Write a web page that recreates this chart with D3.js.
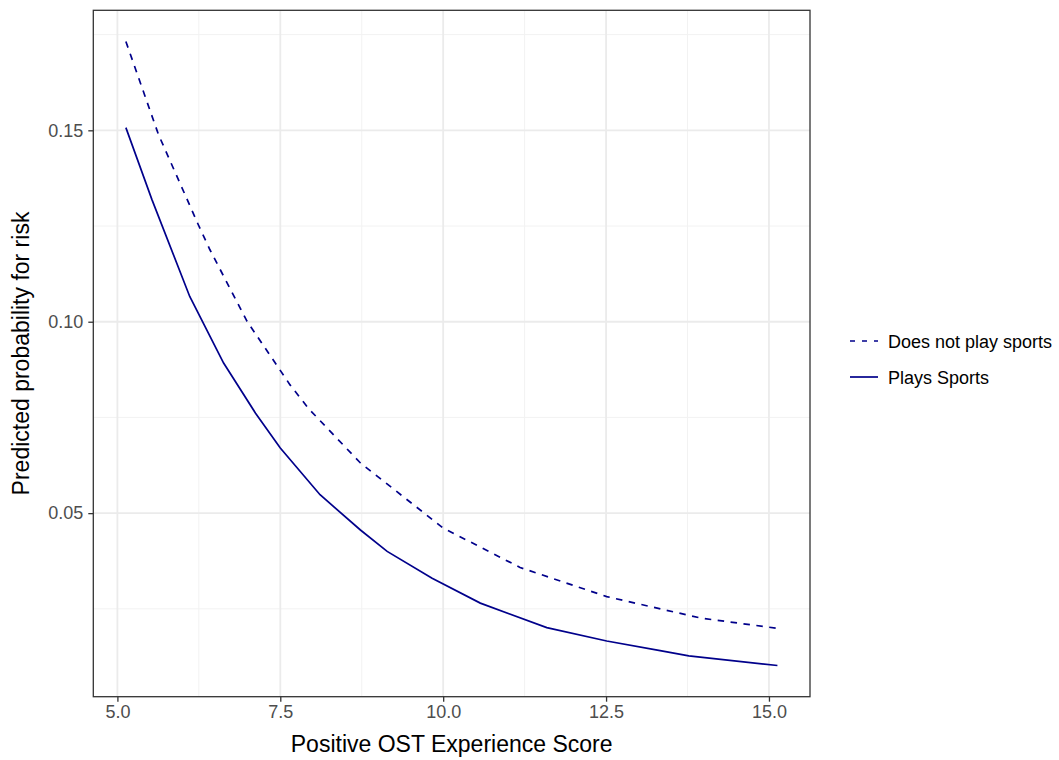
<!DOCTYPE html>
<html>
<head>
<meta charset="utf-8">
<script src="https://cdn.jsdelivr.net/npm/d3@7"></script>
<style>
  html, body { margin: 0; padding: 0; background: #fff; }
  svg { display: block; font-family: "Liberation Sans", Arial, sans-serif; }
</style>
</head>
<body>
<svg id="chart" width="1059" height="760"></svg>
<script>
// ---- data ----
const seriesNames = ["Does not play sports", "Plays Sports"];

const noSportX = [5.13, 5.63, 6.24, 6.42, 6.99, 7.65, 7.94, 8.73, 10.0, 10.85, 11.18, 12.51, 13.59, 13.95, 15.13];
const noSportY = [0.1732, 0.1489, 0.1254, 0.1188, 0.1001, 0.0835, 0.0772, 0.0631, 0.0461, 0.0387, 0.0358, 0.0282, 0.0240, 0.0226, 0.0199];

const sportX = [5.13, 5.53, 6.11, 6.63, 7.12, 7.50, 8.11, 8.73, 9.14, 9.83, 10.57, 11.59, 12.51, 13.33, 13.77, 15.13];
const sportY = [0.1507, 0.1319, 0.1066, 0.0892, 0.0761, 0.0670, 0.0548, 0.0456, 0.0400, 0.0330, 0.0265, 0.0201, 0.0166, 0.0141, 0.0127, 0.0102];

const xTicks = [5.0, 7.5, 10.0, 12.5, 15.0];
const xMinor = [6.25, 8.75, 11.25, 13.75];
const yTicks = [0.05, 0.10, 0.15];
const yMinor = [0.025, 0.075, 0.125, 0.175];

const xTitle = "Positive OST Experience Score";
const yTitle = "Predicted probability for risk";

// ---- layout ----
const svg = d3.select("#chart");
const panel = { left: 93.3, right: 810, top: 10.3, bottom: 696.7 };
const lineColor = "#00008B";

const xAll = noSportX.concat(sportX);
const yAll = noSportY.concat(sportY);
const xExt = d3.extent(xAll), yExt = d3.extent(yAll);
const xPad = (xExt[1] - xExt[0]) * 0.05, yPad = (yExt[1] - yExt[0]) * 0.05;

const x = d3.scaleLinear().domain([xExt[0] - xPad, xExt[1] + xPad]).range([panel.left, panel.right]);
const y = d3.scaleLinear().domain([yExt[0] - yPad, yExt[1] + yPad]).range([panel.bottom, panel.top]);

const W = panel.right - panel.left, H = panel.bottom - panel.top;

// background
svg.append("rect").attr("x", panel.left).attr("y", panel.top).attr("width", W).attr("height", H).attr("fill", "#fff");

// grid
const grid = svg.append("g");
grid.selectAll(".yminor").data(yMinor.filter(v => y(v) > panel.top && y(v) < panel.bottom)).join("line")
  .attr("x1", panel.left).attr("x2", panel.right).attr("y1", d => y(d)).attr("y2", d => y(d))
  .attr("stroke", "#F2F2F2").attr("stroke-width", 1);
grid.selectAll(".xminor").data(xMinor).join("line")
  .attr("y1", panel.top).attr("y2", panel.bottom).attr("x1", d => x(d)).attr("x2", d => x(d))
  .attr("stroke", "#F2F2F2").attr("stroke-width", 1);
grid.selectAll(".ymajor").data(yTicks).join("line")
  .attr("x1", panel.left).attr("x2", panel.right).attr("y1", d => y(d)).attr("y2", d => y(d))
  .attr("stroke", "#EBEBEB").attr("stroke-width", 1.8);
grid.selectAll(".xmajor").data(xTicks).join("line")
  .attr("y1", panel.top).attr("y2", panel.bottom).attr("x1", d => x(d)).attr("x2", d => x(d))
  .attr("stroke", "#EBEBEB").attr("stroke-width", 1.8);

// lines
const line = d3.line().x(d => x(d[0])).y(d => y(d[1]));
const noSport = noSportX.map((v, i) => [v, noSportY[i]]);
const sport = sportX.map((v, i) => [v, sportY[i]]);

svg.append("path").datum(noSport).attr("d", line).attr("fill", "none")
  .attr("stroke", lineColor).attr("stroke-width", 1.7).attr("stroke-dasharray", "6.5,6.5");
svg.append("path").datum(sport).attr("d", line).attr("fill", "none")
  .attr("stroke", lineColor).attr("stroke-width", 1.7);

// panel border
svg.append("rect").attr("x", panel.left).attr("y", panel.top).attr("width", W).attr("height", H)
  .attr("fill", "none").attr("stroke", "#333333").attr("stroke-width", 1.3);

// axes
const xAxis = d3.axisBottom(x).tickValues(xTicks).tickFormat(d3.format(".1f")).tickSize(5).tickPadding(4);
const yAxis = d3.axisLeft(y).tickValues(yTicks).tickFormat(d3.format(".2f")).tickSize(5).tickPadding(5);

const gx = svg.append("g").attr("transform", `translate(0,${panel.bottom})`).call(xAxis);
const gy = svg.append("g").attr("transform", `translate(${panel.left},0)`).call(yAxis);
[gx, gy].forEach(g => {
  g.select(".domain").remove();
  g.selectAll(".tick line").attr("stroke", "#333333").attr("stroke-width", 1.3);
  g.selectAll(".tick text").attr("fill", "#4D4D4D").attr("font-size", "18px")
    .attr("font-family", "Liberation Sans, Arial, sans-serif");
});

// axis titles
svg.append("text").attr("x", (panel.left + panel.right) / 2).attr("y", 752)
  .attr("text-anchor", "middle").attr("font-size", "23px").attr("fill", "#000").text(xTitle);
svg.append("text").attr("transform", `translate(29,${(panel.top + panel.bottom) / 2}) rotate(-90)`)
  .attr("text-anchor", "middle").attr("font-size", "23px").attr("fill", "#000").text(yTitle);

// legend
const legend = svg.append("g");
const legendY = [341, 377];
const dashes = ["5,7", null];
seriesNames.forEach((name, i) => {
  const l = legend.append("line").attr("x1", 850).attr("x2", 878)
    .attr("y1", legendY[i]).attr("y2", legendY[i])
    .attr("stroke", lineColor).attr("stroke-width", 1.7);
  if (dashes[i]) l.attr("stroke-dasharray", dashes[i]);
  legend.append("text").attr("x", 888).attr("y", legendY[i] + 6.5)
    .attr("font-size", "18px").attr("fill", "#000").text(name);
});
</script>
</body>
</html>
